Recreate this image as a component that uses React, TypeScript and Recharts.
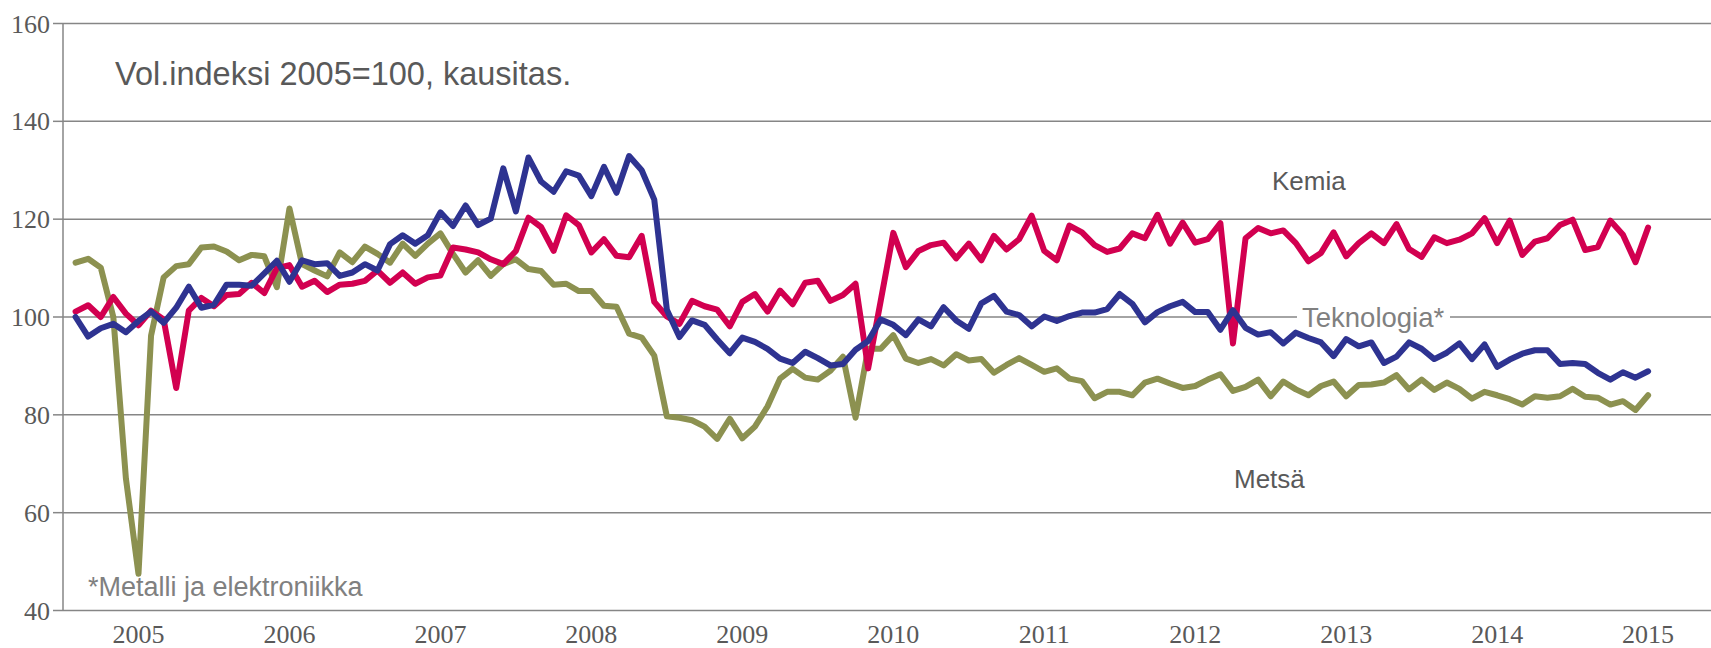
import React from "react";
import { LineChart, Line, XAxis, YAxis, CartesianGrid } from "recharts";

// monthly volume index, Jan 2005 .. Jun 2015 (2005=100, seasonally adjusted)
const years = ["2005", "2006", "2007", "2008", "2009", "2010", "2011", "2012", "2013", "2014", "2015"];

const kemia = [
  101.1, 102.4, 100.0, 104.1, 100.7, 98.3, 101.3, 99.5, 85.5, 101.3, 103.9, 102.2,
  104.5, 104.7, 107.0, 104.9, 110.0, 110.6, 106.2, 107.4, 105.1, 106.6, 106.8, 107.4,
  109.5, 107.0, 109.1, 106.8, 108.1, 108.5, 114.2, 113.8, 113.2, 111.8, 110.8, 113.5,
  120.3, 118.4, 113.5, 120.8, 118.8, 113.2, 115.9, 112.5, 112.2, 116.6, 103.1, 100.1,
  98.6, 103.3, 102.2, 101.5, 98.1, 103.1, 104.7, 101.1, 105.4, 102.6, 107.0, 107.4,
  103.3, 104.5, 106.8, 89.5, 103.3, 117.2, 110.2, 113.5, 114.7, 115.2, 112.0, 115.0,
  111.6, 116.6, 113.8, 115.9, 120.7, 113.5, 111.6, 118.7, 117.3, 114.7, 113.3, 114.0,
  117.1, 116.1, 120.9, 115.0, 119.3, 115.2, 115.9, 119.2, 94.6, 116.1, 118.2, 117.1,
  117.7, 115.1, 111.4, 113.1, 117.3, 112.4, 115.1, 117.1, 115.1, 119.0, 113.9, 112.3,
  116.3, 115.1, 115.8, 117.1, 120.2, 115.1, 119.7, 112.7, 115.4, 116.1, 118.8, 119.9,
  113.7, 114.3, 119.7, 116.8, 111.2, 118.3,
];

const teknologia = [
  100.0, 96.0, 97.7, 98.6, 96.9, 99.2, 101.1, 98.8, 101.9, 106.2, 101.9, 102.5,
  106.6, 106.6, 106.4, 108.9, 111.5, 107.2, 111.6, 110.8, 111.0, 108.4, 109.1, 110.8,
  109.5, 114.9, 116.7, 115.0, 116.7, 121.4, 118.6, 122.8, 118.8, 120.1, 130.4, 121.6,
  132.6, 127.7, 125.6, 129.8, 128.9, 124.7, 130.7, 125.4, 132.9, 130.0, 124.0, 101.5,
  95.9, 99.3, 98.4, 95.4, 92.6, 95.8, 94.9, 93.5, 91.5, 90.6, 92.9, 91.6,
  90.1, 90.4, 93.3, 95.1, 99.5, 98.4, 96.3, 99.5, 98.1, 102.0, 99.3, 97.6,
  102.8, 104.3, 101.1, 100.4, 98.1, 100.1, 99.2, 100.2, 100.9, 100.9, 101.6, 104.7,
  102.7, 98.9, 101.0, 102.2, 103.1, 101.0, 101.0, 97.4, 101.4, 97.8, 96.4, 96.9,
  94.6, 96.8, 95.7, 94.8, 92.0, 95.5, 94.0, 94.8, 90.6, 91.9, 94.8, 93.5,
  91.4, 92.7, 94.6, 91.4, 94.4, 89.8, 91.3, 92.5, 93.2, 93.2, 90.4, 90.6,
  90.4, 88.6, 87.2, 88.7, 87.6, 88.9,
];

const metsa = [
  111.1, 111.9, 110.1, 100.0, 67.0, 47.5, 96.2, 108.1, 110.4, 110.8, 114.2, 114.4,
  113.4, 111.6, 112.7, 112.4, 106.1, 122.2, 110.8, 109.5, 108.3, 113.2, 111.2, 114.4,
  112.9, 111.1, 115.0, 112.5, 115.0, 117.1, 112.9, 109.1, 111.6, 108.4, 110.8, 111.8,
  109.8, 109.4, 106.6, 106.8, 105.3, 105.3, 102.3, 102.1, 96.6, 95.8, 92.1, 79.7,
  79.4, 78.9, 77.6, 75.1, 79.2, 75.2, 77.6, 81.7, 87.4, 89.4, 87.6, 87.2,
  89.0, 91.9, 79.4, 93.5, 93.5, 96.3, 91.5, 90.6, 91.4, 90.1, 92.4, 91.1,
  91.4, 88.6, 90.2, 91.6, 90.2, 88.8, 89.5, 87.4, 86.9, 83.4, 84.7, 84.7,
  84.0, 86.6, 87.4, 86.4, 85.5, 85.9, 87.2, 88.3, 84.9, 85.7, 87.2, 83.8,
  86.8, 85.2, 84.0, 85.9, 86.8, 83.8, 86.1, 86.2, 86.6, 88.1, 85.2, 87.2,
  85.1, 86.6, 85.3, 83.3, 84.7, 84.0, 83.2, 82.1, 83.8, 83.5, 83.8, 85.3,
  83.7, 83.5, 82.1, 82.8, 81.0, 84.0,
];

const yTicks = [40, 60, 80, 100, 120, 140, 160];

// month n sits at x = n (Jan 2005 = 1), year boundaries every 12
const rows = kemia.map((v, i) => ({
  x: i + 1,
  kemia: v,
  teknologia: teknologia[i],
  metsa: metsa[i],
}));
const yearStarts = years.map((_, i) => i * 12);
const yearMids = years.map((_, i) => i * 12 + 6);

const AXIS = "#868686";
const TEXT = "#595959";
const LIGHT = "#808080";
const serif = "'Liberation Serif', 'Times New Roman', serif";
const sans = "'Liberation Sans', Arial, sans-serif";
const PLOT_LEFT = 63;

function YTick(props: any) {
  const { y, payload } = props;
  return (
    <g>
      <line x1={PLOT_LEFT - 10} x2={PLOT_LEFT} y1={y} y2={y} stroke={AXIS} strokeWidth={1.5} />
      <text
        x={PLOT_LEFT - 13}
        y={y}
        dy={9}
        textAnchor="end"
        style={{ fontSize: 26, fontFamily: serif, fill: TEXT }}
      >
        {payload.value}
      </text>
    </g>
  );
}

function YearTick(props: any) {
  const { x, payload } = props;
  return (
    <text x={x} y={643} textAnchor="middle" style={{ fontSize: 26, fontFamily: serif, fill: TEXT }}>
      {years[Math.floor(payload.value / 12)]}
    </text>
  );
}

export default function App() {
  return (
    <div style={{ position: "absolute", left: 0, top: 0, width: 1711, height: 648, background: "#fff" }}>
      <LineChart
        width={1711}
        height={648}
        data={rows}
        margin={{ top: 23.5, right: 0, bottom: 0, left: 0 }}
      >
        <CartesianGrid xAxisId="b" vertical={false} stroke={AXIS} strokeWidth={1.5} />
        <XAxis
          xAxisId="b"
          dataKey="x"
          type="number"
          domain={[0, 131]}
          ticks={yearStarts}
          tick={false}
          tickSize={10}
          height={0}
          axisLine={{ stroke: AXIS, strokeWidth: 1.5 }}
          tickLine={{ stroke: AXIS, strokeWidth: 1.5 }}
          allowDataOverflow
        />
        <XAxis
          xAxisId="l"
          dataKey="x"
          type="number"
          domain={[0, 131]}
          ticks={yearMids}
          axisLine={false}
          tickLine={false}
          height={37.5}
          interval={0}
          tick={<YearTick />}
          allowDataOverflow
        />
        <YAxis
          domain={[40, 160]}
          ticks={yTicks}
          width={PLOT_LEFT}
          interval={0}
          axisLine={{ stroke: AXIS, strokeWidth: 1.5 }}
          tickLine={false}
          tick={<YTick />}
        />
        <Line xAxisId="b" dataKey="metsa" stroke="#8C9150" strokeWidth={6} dot={false}
          strokeLinejoin="round" strokeLinecap="round" isAnimationActive={false} />
        <Line xAxisId="b" dataKey="kemia" stroke="#D20050" strokeWidth={6} dot={false}
          strokeLinejoin="round" strokeLinecap="round" isAnimationActive={false} />
        <Line xAxisId="b" dataKey="teknologia" stroke="#2E3391" strokeWidth={6} dot={false}
          strokeLinejoin="round" strokeLinecap="round" isAnimationActive={false} />
      </LineChart>
      <svg
        width={1711}
        height={648}
        style={{ position: "absolute", left: 0, top: 0, pointerEvents: "none" }}
      >
        <text x={115} y={85} fontSize={32.5} fontFamily={sans} fill={TEXT}>
          Vol.indeksi 2005=100, kausitas.
        </text>
        <text x={1272} y={190} fontSize={26} fontFamily={sans} fill={TEXT}>
          Kemia
        </text>
        <rect x={1297} y={300} width={153} height={30} fill="#fff" />
        <text x={1302} y={327} fontSize={27.5} fontFamily={sans} fill={LIGHT}>
          Teknologia*
        </text>
        <text x={1234} y={488} fontSize={26} fontFamily={sans} fill={TEXT}>
          Metsä
        </text>
        <text x={88} y={596} fontSize={27} fontFamily={sans} fill={LIGHT}>
          *Metalli ja elektroniikka
        </text>
      </svg>
    </div>
  );
}
